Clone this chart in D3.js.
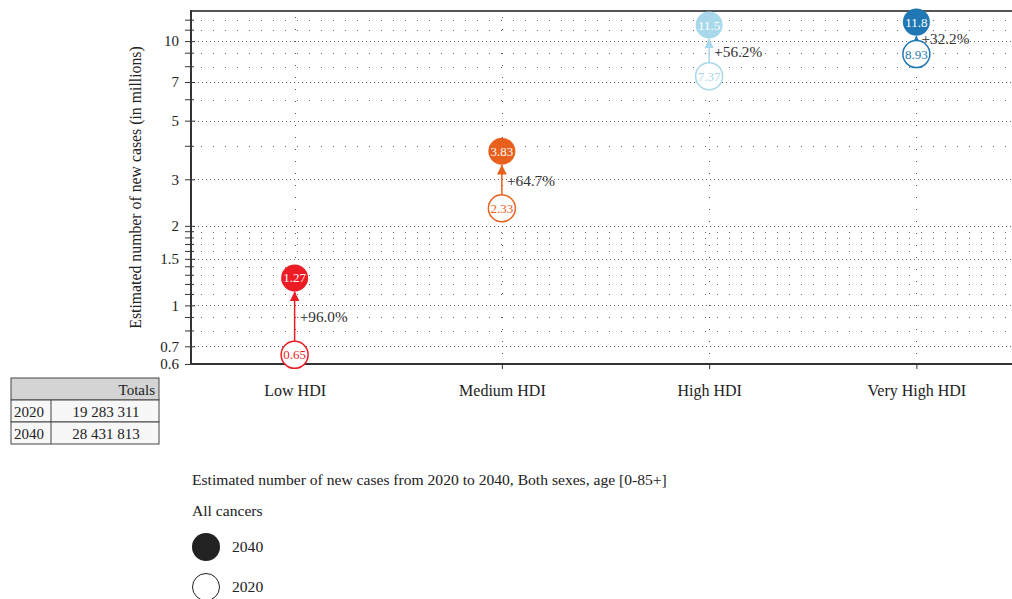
<!DOCTYPE html>
<html>
<head>
<meta charset="utf-8">
<script src="https://cdn.jsdelivr.net/npm/d3@7"></script>
<style>
  body { margin: 0; background: #fff; }
  svg { font-family: "Liberation Serif", "DejaVu Serif", serif; }
</style>
</head>
<body>
<svg id="chart" width="1012" height="599"></svg>
<script>
// data
const categories = ["Low HDI", "Medium HDI", "High HDI", "Very High HDI"]
const values2020 = [0.65, 2.33, 7.37, 8.93]
const values2040 = [1.27, 3.83, 11.5, 11.8]
const changeLabels = ["+96.0%", "+64.7%", "+56.2%", "+32.2%"]
const colors = ["#ed1c24", "#e8601c", "#a8d8ea", "#1f78b4"]
const majorTicks = [0.6, 0.7, 1, 1.5, 2, 3, 5, 7, 10]
const minorTicks = [0.8, 0.9, 1.1, 1.2, 1.3, 1.4, 1.6, 1.7, 1.8, 1.9, 4, 6, 8, 9, 11, 12]
const totalYears = ["2020", "2040"]
const totalValues = ["19 283 311", "28 431 813"]

const svg = d3.select("#chart")
const plotLeft = 191, plotTop = 11, plotBottom = 364, plotRight = 1020

const x = d3.scalePoint().domain(categories).range([plotLeft, plotRight]).padding(0.5)
const y = d3.scaleLog().domain([0.6, 13]).range([plotBottom, plotTop])

// grid lines
svg.append("g")
  .selectAll("line")
  .data(minorTicks)
  .enter()
  .append("line")
  .attr("x1", plotLeft + 10).attr("x2", 1012)
  .attr("y1", d => Math.round(y(d)) + 0.5).attr("y2", d => Math.round(y(d)) + 0.5)
  .attr("stroke", "#666").attr("stroke-dasharray", "1,11")

svg.append("g")
  .selectAll("line")
  .data(majorTicks.filter(d => d > 0.6))
  .enter()
  .append("line")
  .attr("x1", plotLeft + 3).attr("x2", 1012)
  .attr("y1", d => Math.round(y(d)) + 0.5).attr("y2", d => Math.round(y(d)) + 0.5)
  .attr("stroke", "#666").attr("stroke-dasharray", "1,3")

svg.append("g")
  .selectAll("line")
  .data(categories)
  .enter()
  .append("line")
  .attr("x1", d => Math.round(x(d)) + 0.5).attr("x2", d => Math.round(x(d)) + 0.5)
  .attr("y1", plotTop + 6).attr("y2", plotBottom)
  .attr("stroke", "#555").attr("stroke-dasharray", "1,11")

// frame line on top
svg.append("line")
  .attr("x1", plotLeft).attr("x2", 1012).attr("y1", plotTop).attr("y2", plotTop)
  .attr("stroke", "#555").attr("stroke-width", 2)

// y axis
const yAxis = svg.append("g")
  .attr("transform", `translate(${plotLeft},0)`)
  .call(d3.axisLeft(y).tickValues(majorTicks).tickFormat(d3.format("~g")).tickSize(6).tickPadding(6))
yAxis.select(".domain").attr("stroke", "#333").attr("stroke-width", 2)
  .attr("d", `M0,${plotTop - 1}V${plotBottom + 1}`)
yAxis.selectAll(".tick line").attr("stroke", "#333").attr("x2", 4).attr("x1", -6)
yAxis.selectAll(".tick text").attr("font-size", 15).attr("fill", "#222")
  .attr("font-family", "Liberation Serif")

svg.append("g")
  .selectAll("line")
  .data(minorTicks)
  .enter()
  .append("line")
  .attr("x1", plotLeft - 6).attr("x2", plotLeft + 3)
  .attr("y1", d => y(d)).attr("y2", d => y(d))
  .attr("stroke", "#333")

// x axis
const xAxis = svg.append("g")
  .attr("transform", `translate(0,${plotBottom})`)
  .call(d3.axisBottom(x).tickSize(5).tickPadding(16))
xAxis.select(".domain").attr("stroke", "#333").attr("stroke-width", 2)
  .attr("d", `M${plotLeft - 1},0H1012`)
xAxis.selectAll(".tick line").attr("stroke", "#333")
xAxis.selectAll(".tick text").attr("font-size", 16).attr("fill", "#222")
  .attr("font-family", "Liberation Serif")

svg.append("text")
  .attr("transform", `translate(141,${(plotTop + plotBottom) / 2}) rotate(-90)`)
  .attr("text-anchor", "middle")
  .attr("font-size", 15.8).attr("fill", "#222")
  .text("Estimated number of new cases (in millions)")

// arrows and points
const r = 13.5
const defs = svg.append("defs")
categories.forEach((c, i) => {
  defs.append("marker")
    .attr("id", "arrow" + i)
    .attr("viewBox", "0 0 10 10")
    .attr("refX", 10).attr("refY", 5)
    .attr("markerWidth", 6.5).attr("markerHeight", 6.5)
    .attr("markerUnits", "strokeWidth")
    .attr("orient", "auto")
    .append("path").attr("d", "M0,0L10,5L0,10Z").attr("fill", colors[i])
})

const pts = svg.append("g")
categories.forEach((c, i) => {
  const cx = x(c)
  const y0 = y(values2020[i]), y1 = y(values2040[i])
  pts.append("line")
    .attr("x1", cx).attr("x2", cx)
    .attr("y1", y0 - r).attr("y2", y1 + r)
    .attr("stroke", colors[i]).attr("stroke-width", 1.5)
    .attr("marker-end", `url(#arrow${i})`)
  pts.append("circle")
    .attr("cx", cx).attr("cy", y0).attr("r", r)
    .attr("fill", "#fff").attr("stroke", colors[i]).attr("stroke-width", 1.5)
  pts.append("text")
    .attr("x", cx).attr("y", y0 + 4.5)
    .attr("text-anchor", "middle").attr("font-size", 13).attr("fill", colors[i])
    .text(values2020[i])
  pts.append("circle")
    .attr("cx", cx).attr("cy", y1).attr("r", r)
    .attr("fill", colors[i])
  pts.append("text")
    .attr("x", cx).attr("y", y1 + 4.5)
    .attr("text-anchor", "middle").attr("font-size", 13).attr("fill", "#fff")
    .text(values2040[i])
  pts.append("text")
    .attr("x", cx + 5).attr("y", (y0 + y1) / 2 + 6)
    .attr("font-size", 15.3).attr("fill", "#333")
    .text(changeLabels[i])
})

// totals table
const tbl = svg.append("g").attr("transform", "translate(11,378)")
tbl.append("rect").attr("width", 148).attr("height", 22)
  .attr("fill", "#d4d4d4").attr("stroke", "#444")
tbl.append("text").attr("x", 144).attr("y", 17).attr("text-anchor", "end")
  .attr("font-size", 15).attr("fill", "#222").text("Totals")
totalYears.forEach((yr, i) => {
  const ry = 22 + i * 22
  tbl.append("rect").attr("y", ry).attr("width", 148).attr("height", 22)
    .attr("fill", "#f7f7f7").attr("stroke", "#444")
  tbl.append("line").attr("x1", 40).attr("x2", 40).attr("y1", ry).attr("y2", ry + 22)
    .attr("stroke", "#444")
  tbl.append("text").attr("x", 3).attr("y", ry + 17)
    .attr("font-size", 15).attr("fill", "#222").text(yr)
  tbl.append("text").attr("x", 95).attr("y", ry + 17).attr("text-anchor", "middle")
    .attr("font-size", 15).attr("fill", "#222").text(totalValues[i])
})

// caption and legend
svg.append("text").attr("x", 192).attr("y", 485)
  .attr("font-size", 15.6).attr("fill", "#222")
  .text("Estimated number of new cases from 2020 to 2040, Both sexes, age [0-85+]")
svg.append("text").attr("x", 192).attr("y", 516)
  .attr("font-size", 15.6).attr("fill", "#222")
  .text("All cancers")
svg.append("circle").attr("cx", 206).attr("cy", 547).attr("r", 14).attr("fill", "#222")
svg.append("text").attr("x", 232).attr("y", 552)
  .attr("font-size", 15.6).attr("fill", "#222").text("2040")
svg.append("circle").attr("cx", 206).attr("cy", 587).attr("r", 13.5)
  .attr("fill", "#fff").attr("stroke", "#222").attr("stroke-width", 1)
svg.append("text").attr("x", 232).attr("y", 592)
  .attr("font-size", 15.6).attr("fill", "#222").text("2020")
</script>
</body>
</html>
